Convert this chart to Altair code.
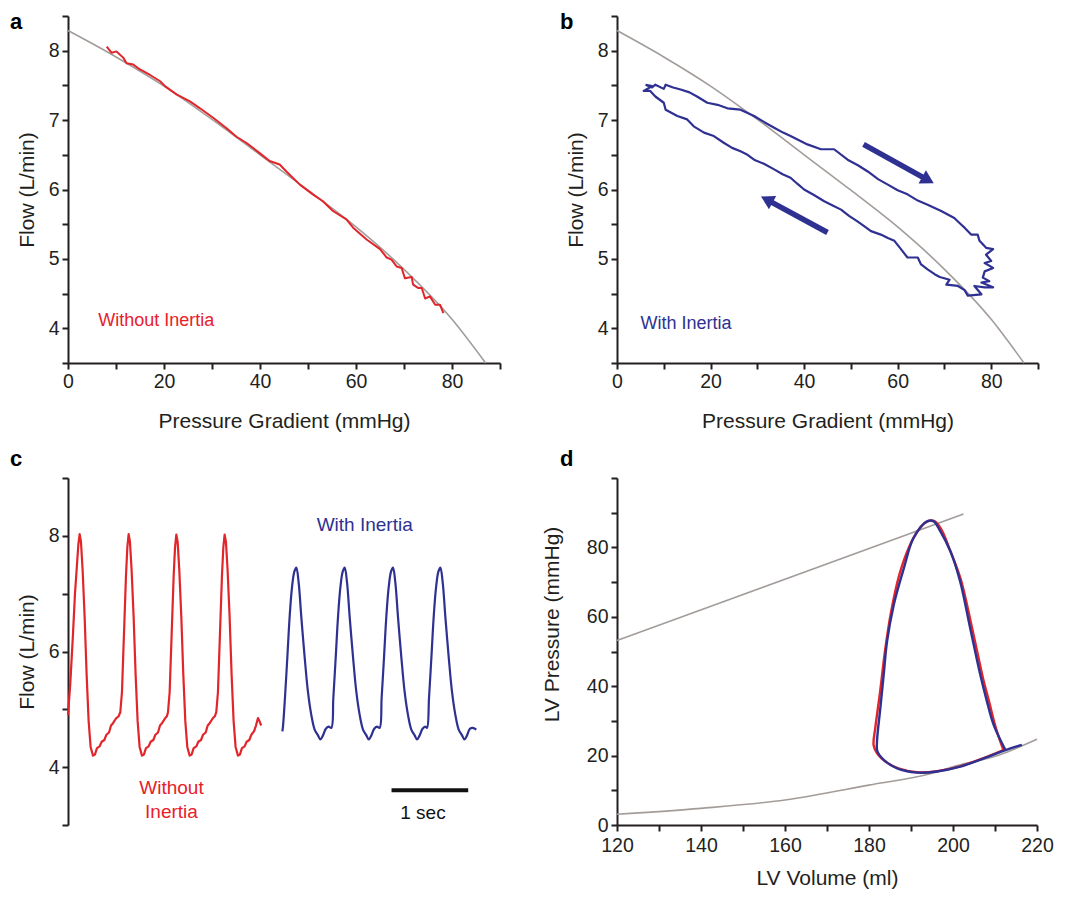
import math
import altair as alt
import pandas as pd

FONT = "Liberation Sans"
RED = "#e1262b"
RED_TXT = "#e8202a"
BLUE = "#2e3192"
GRAY = "#a39d9a"
AX = "#231f20"

# ---------------- panel a / b : pressure gradient vs flow ----------------
CURVE_P = [0, 10, 20, 30, 40, 50, 60, 70, 80, 87]
CURVE_Q = [8.29, 7.91, 7.49, 7.01, 6.50, 5.99, 5.46, 4.85, 4.13, 3.5]

RED_A_P = [8.06, 9.1, 10.1, 11.5, 12.2, 13.6, 15.0, 17.1, 19.2, 20.2, 22.6, 25.4, 27.5,
           30.3, 33.1, 35.1, 37.2, 40.0, 42.0, 44.1, 45.5, 48.3, 51.0, 53.1, 55.2, 58.0,
           59.4, 62.2, 65.0, 66.4, 67.4, 68.5, 69.5, 70.2, 71.6, 71.9, 73.0, 73.7, 74.4,
           75.4, 76.5, 77.5, 78.2]
RED_A_Q = [8.06, 7.97, 7.99, 7.90, 7.82, 7.80, 7.73, 7.65, 7.56, 7.49, 7.37, 7.27, 7.17,
           7.03, 6.88, 6.76, 6.67, 6.52, 6.41, 6.36, 6.26, 6.07, 5.93, 5.83, 5.69, 5.57,
           5.45, 5.28, 5.14, 5.02, 4.99, 4.89, 4.87, 4.72, 4.74, 4.63, 4.58, 4.58, 4.43,
           4.46, 4.34, 4.34, 4.22]

BLUE_B_P = [6.1, 7.5, 8.2, 10.0, 10.4, 12.0, 13.6, 15.5, 17.1, 19.3, 21.5, 23.6, 26.4, 29.3,
            31.5, 33.6, 35.5, 37.1, 40.7, 43.6, 46.4, 49.3, 51.5, 53.6, 55.8, 57.9, 60.0,
            62.1, 64.3, 66.4, 69.3, 72.1, 73.5, 74.3, 75.7, 77.1, 77.5, 78.9, 80.4, 78.9,
            80.0, 78.6, 80.4, 78.6, 78.2, 79.6, 77.9, 80.4, 78.6, 76.4, 77.9, 75.0, 74.3,
            72.9, 70.4, 71.1, 69.0, 67.9, 66.4, 65.0, 64.3, 62.1, 60.7, 59.3, 57.9, 56.4,
            54.3, 52.9, 51.4, 49.6, 47.9, 46.1, 44.3, 42.1, 40.0, 38.6, 37.1, 35.4, 33.6,
            31.4, 29.3, 27.9, 26.4, 24.6, 22.9, 20.7, 18.6, 16.4, 15.0, 12.9, 10.4, 10.0,
            8.2, 7.1, 5.7, 7.5, 6.1]
BLUE_B_Q = [7.51, 7.47, 7.51, 7.45, 7.51, 7.47, 7.44, 7.40, 7.34, 7.25, 7.22, 7.17, 7.15, 7.06,
            6.97, 6.89, 6.82, 6.77, 6.65, 6.58, 6.58, 6.43, 6.35, 6.26, 6.15, 6.07, 5.99,
            5.93, 5.84, 5.78, 5.69, 5.59, 5.50, 5.45, 5.35, 5.35, 5.26, 5.16, 5.14, 5.06,
            4.97, 4.94, 4.87, 4.82, 4.73, 4.68, 4.66, 4.59, 4.59, 4.61, 4.49, 4.47, 4.55,
            4.61, 4.63, 4.70, 4.74, 4.78, 4.85, 4.92, 5.02, 5.02, 5.14, 5.26, 5.30, 5.35,
            5.40, 5.47, 5.54, 5.62, 5.71, 5.77, 5.83, 5.92, 6.00, 6.08, 6.17, 6.22, 6.29,
            6.37, 6.43, 6.50, 6.55, 6.60, 6.67, 6.77, 6.82, 6.91, 7.01, 7.06, 7.15, 7.25,
            7.34, 7.42, 7.42, 7.49, 7.51]

# arrows (tail P, tail Q, tip P, tip Q)
ARROWS = [(52.7, 6.65, 67.7, 6.09), (45.0, 5.38, 30.8, 5.90)]

# ---------------- panel c : flow traces over time ----------------
RED_T = [0.000, 0.030, 0.065, 0.091, 0.117, 0.135, 0.152, 0.169, 0.191, 0.217, 0.243, 0.269,
         0.295, 0.326, 0.352, 0.378, 0.413, 0.439, 0.474, 0.500, 0.535, 0.561, 0.587, 0.630,
         0.660,
         0.682, 0.704, 0.730, 0.756, 0.774, 0.791, 0.808, 0.830, 0.856, 0.882, 0.908, 0.934,
         0.965, 0.991, 1.017, 1.052, 1.078, 1.113, 1.139, 1.174, 1.200, 1.226, 1.269, 1.290,
         1.304, 1.326, 1.352, 1.378, 1.396, 1.413, 1.430, 1.452, 1.478, 1.504, 1.530, 1.556,
         1.587, 1.613, 1.639, 1.674, 1.700, 1.735, 1.761, 1.796, 1.822, 1.848, 1.891, 1.915,
         1.934, 1.956, 1.982, 2.008, 2.026, 2.043, 2.060, 2.082, 2.108, 2.134, 2.160, 2.186,
         2.217, 2.243, 2.269, 2.304, 2.330, 2.365, 2.391, 2.426, 2.452, 2.478, 2.496, 2.520]
RED_F = [4.90, 5.45, 6.30, 7.00, 7.50, 7.85, 8.03, 7.90, 7.40, 6.60, 5.60, 4.80,
         4.35, 4.20, 4.22, 4.33, 4.36, 4.44, 4.47, 4.56, 4.60, 4.72, 4.76, 4.85,
         4.88,
         4.95, 5.30, 6.30, 7.30, 7.80, 8.03, 7.90, 7.40, 6.60, 5.60, 4.80, 4.35,
         4.20, 4.22, 4.33, 4.36, 4.44, 4.47, 4.56, 4.60, 4.72, 4.76, 4.85, 4.88,
         4.95, 5.30, 6.30, 7.30, 7.80, 8.02, 7.90, 7.40, 6.60, 5.60, 4.80, 4.35,
         4.20, 4.22, 4.33, 4.36, 4.44, 4.47, 4.56, 4.60, 4.72, 4.76, 4.85, 4.88,
         4.95, 5.30, 6.30, 7.30, 7.80, 8.02, 7.90, 7.40, 6.60, 5.60, 4.80, 4.35,
         4.20, 4.22, 4.33, 4.36, 4.44, 4.47, 4.56, 4.62, 4.72, 4.85, 4.80, 4.72]

BLUE_T = [2.796, 2.804, 2.830, 2.861, 2.891, 2.921, 2.952, 2.978, 3.008, 3.043, 3.087, 3.130,
          3.174, 3.217, 3.261, 3.291, 3.326, 3.361, 3.400,
          3.435, 3.461, 3.492, 3.522, 3.552, 3.583, 3.609, 3.639, 3.674, 3.718, 3.761, 3.805,
          3.848, 3.892, 3.922, 3.957, 3.992, 4.031,
          4.065, 4.091, 4.122, 4.152, 4.182, 4.213, 4.239, 4.269, 4.304, 4.348, 4.391, 4.435,
          4.478, 4.522, 4.552, 4.587, 4.622, 4.661,
          4.683, 4.709, 4.740, 4.770, 4.800, 4.831, 4.857, 4.887, 4.922, 4.966, 5.009, 5.053,
          5.096, 5.140, 5.170, 5.205, 5.240, 5.279, 5.326]
BLUE_F = [4.62, 4.70, 5.20, 5.90, 6.60, 7.10, 7.38, 7.45, 7.20, 6.60, 5.90, 5.30,
          4.90, 4.65, 4.55, 4.48, 4.55, 4.66, 4.70,
          4.68, 5.20, 5.90, 6.60, 7.10, 7.38, 7.45, 7.20, 6.60, 5.90, 5.30, 4.90,
          4.65, 4.55, 4.48, 4.55, 4.66, 4.70,
          4.68, 5.20, 5.90, 6.60, 7.10, 7.38, 7.45, 7.20, 6.60, 5.90, 5.30, 4.90,
          4.65, 4.55, 4.48, 4.55, 4.66, 4.70,
          4.68, 5.20, 5.90, 6.60, 7.10, 7.38, 7.45, 7.20, 6.60, 5.90, 5.30, 4.90,
          4.65, 4.55, 4.48, 4.55, 4.66, 4.68, 4.65]

SCALE_BAR = (4.22, 5.22, 3.60)  # t start, t end, flow level

# ---------------- panel d : PV loops ----------------
ESPVR_V = [120, 202.5]
ESPVR_P = [53.2, 89.6]
EDPVR_V = [120, 140, 160, 180, 195, 200, 211, 220]
EDPVR_P = [3.1, 4.8, 7.2, 11.5, 14.9, 16.8, 20.2, 24.7]

RED_D_V = [212.0, 210.2, 208.5, 207.2, 204.5, 201.8, 199.2, 197.3, 195.6, 193.6, 191.5,
           189.5, 187.2, 185.2, 183.8, 182.6, 181.5, 181.1, 182.0, 184.0, 187.0, 191.4,
           196.2, 201.7, 207.3, 212.0]
RED_D_P = [21.6, 28.0, 36.0, 42.0, 57.0, 71.0, 79.5, 85.0, 87.6, 87.3, 84.5,
           80.0, 72.0, 61.0, 50.0, 38.0, 28.0, 23.0, 20.5, 18.2, 16.3, 15.2,
           15.5, 16.9, 19.3, 21.6]
BLUE_D_V = [212.5, 209.7, 208.0, 206.5, 204.1, 201.7, 199.4, 197.0, 195.4, 193.8, 190.6,
            188.3, 185.9, 184.3, 183.5, 182.7, 181.9, 182.0, 183.5, 186.7, 191.4, 196.2,
            201.7, 207.3, 212.5, 216.4]
BLUE_D_P = [21.6, 28.8, 36.0, 43.3, 56.7, 70.2, 78.8, 84.6, 87.5, 87.5, 82.7,
            74.0, 63.5, 52.9, 43.3, 33.7, 24.0, 21.2, 18.8, 16.3, 15.1, 15.4,
            16.8, 19.2, 21.6, 23.1]

# ---------------- layout ----------------
W_A, W_B, W_C, W_D, H = 432, 421, 414, 420, 347


def frame(xs, ys):
    return pd.DataFrame({"x": xs, "y": ys, "i": list(range(len(xs)))})


def axis(values, expr, title, tpad, lpad=3, **kw):
    return alt.Axis(values=values, tickCount=40, labelExpr=expr, title=title, titlePadding=tpad,
                    domainColor=AX, domainWidth=2, tickColor=AX, tickWidth=2, tickSize=6,
                    labelFont=FONT, labelFontSize=19.5, labelColor=AX, labelPadding=lpad,
                    labelOverlap=False, labelFlush=False, labelBound=False,
                    titleFont=FONT, titleFontSize=21, titleFontWeight="normal",
                    titleColor=AX, grid=False, **kw)


def line(df, color, width, xs, ys, xa=None, ya=None, interp="linear"):
    xk = {"scale": xs}
    yk = {"scale": ys}
    if xa is not None:
        xk["axis"] = xa
    if ya is not None:
        yk["axis"] = ya
    return alt.Chart(df).mark_line(color=color, strokeWidth=width, strokeJoin="round",
                                   interpolate=interp).encode(
        x=alt.X("x:Q", **xk), y=alt.Y("y:Q", **yk), order="i:Q")


def label_text(txt, xv, yv, xs, ys, color, size, align="left", weight="normal"):
    return alt.Chart(pd.DataFrame({"x": [xv], "y": [yv], "t": [txt]})).mark_text(
        font=FONT, fontSize=size, color=color, align=align, baseline="middle",
        fontWeight=weight).encode(x=alt.X("x:Q", scale=xs), y=alt.Y("y:Q", scale=ys), text="t:N")


def letter(ch, dx, dy):
    return alt.Chart(pd.DataFrame({"t": [ch]})).mark_text(
        font=FONT, fontSize=22, fontWeight="bold", color="#000", align="left",
        baseline="alphabetic").encode(x=alt.value(dx), y=alt.value(dy), text="t:N")


int_expr = "abs(datum.value - round(datum.value)) < 0.01 ? '' + round(datum.value) : ''"
x20_expr = "datum.value % 20 === 0 && datum.value < 90 ? '' + datum.value : ''"
Y_AB = [3.5, 4, 4.5, 5, 5.5, 6, 6.5, 7, 7.5, 8, 8.5]
X_AB = list(range(0, 100, 10))

# panel a
xs_a = alt.Scale(domain=[0, 90], nice=False, zero=False)
ys_a = alt.Scale(domain=[3.5, 8.5], nice=False, zero=False)
pa = alt.layer(
    line(frame(CURVE_P, CURVE_Q), GRAY, 1.6, xs_a, ys_a,
         xa=axis(X_AB, x20_expr, "Pressure Gradient (mmHg)", 20),
         ya=axis(Y_AB, int_expr, "Flow (L/min)", 11), interp="monotone"),
    line(frame(RED_A_P, RED_A_Q), RED, 2, xs_a, ys_a),
    label_text("Without Inertia", 6.3, 4.1, xs_a, ys_a, RED_TXT, 18),
    letter("a", -58, 13),
).properties(width=W_A, height=H)

# panel b
xs_b = alt.Scale(domain=[0, 90], nice=False, zero=False)
ys_b = alt.Scale(domain=[3.5, 8.5], nice=False, zero=False)
pxP = W_B / 90.0
pxQ = H / 5.0
arrow_layers = []
for (p0, q0, p1, q1) in ARROWS:
    dx = (p1 - p0) * pxP
    dy = -(q1 - q0) * pxQ  # screen y grows downward
    ln = math.hypot(dx, dy)
    ux, uy = dx / ln, dy / ln
    ang = math.degrees(math.atan2(ux, -uy)) % 360
    back = 6.5
    cp = p1 - ux * back / pxP
    cq = q1 + uy * back / pxQ
    arrow_layers.append(
        alt.Chart(pd.DataFrame({"x": [p0], "y": [q0], "x2": [cp], "y2": [cq]})).mark_rule(
            color=BLUE, strokeWidth=5.5, strokeCap="butt").encode(
            x=alt.X("x:Q", scale=xs_b), y=alt.Y("y:Q", scale=ys_b), x2="x2:Q", y2="y2:Q"))
    arrow_layers.append(
        alt.Chart(pd.DataFrame({"x": [cp], "y": [cq]})).mark_point(
            shape="triangle-up", filled=True, size=230, color=BLUE, opacity=1,
            angle=ang).encode(x=alt.X("x:Q", scale=xs_b), y=alt.Y("y:Q", scale=ys_b)))

pb = alt.layer(
    line(frame(CURVE_P, CURVE_Q), GRAY, 1.6, xs_b, ys_b,
         xa=axis(X_AB, x20_expr, "Pressure Gradient (mmHg)", 20),
         ya=axis(Y_AB, int_expr, "Flow (L/min)", 11), interp="monotone"),
    line(frame(BLUE_B_P, BLUE_B_Q), BLUE, 2.2, xs_b, ys_b),
    *arrow_layers,
    label_text("With Inertia", 5.0, 4.06, xs_b, ys_b, BLUE, 18),
    letter("b", -57, 13),
).properties(width=W_B, height=H)

# panel c
xs_c = alt.Scale(domain=[0, 5.4], nice=False, zero=False)
ys_c = alt.Scale(domain=[3, 9], nice=False, zero=False)
c_expr = "datum.value % 2 === 0 ? '' + datum.value : ''"
pc = alt.layer(
    line(frame(RED_T, RED_F), RED, 2.2, xs_c, ys_c,
         ya=axis(list(range(3, 10)), c_expr, "Flow (L/min)", 11)).encode(
        x=alt.X("x:Q", scale=xs_c, axis=None)),
    line(frame(BLUE_T, BLUE_F), BLUE, 2.2, xs_c, ys_c, interp="catmull-rom"),
    alt.Chart(pd.DataFrame({"x": [SCALE_BAR[0]], "x2": [SCALE_BAR[1]], "y": [SCALE_BAR[2]]})).mark_rule(
        color="#111", strokeWidth=4, strokeCap="butt").encode(
        x=alt.X("x:Q", scale=xs_c), x2="x2:Q", y=alt.Y("y:Q", scale=ys_c)),
    label_text("1 sec", 4.63, 3.2, xs_c, ys_c, "#111", 19, align="center"),
    label_text("With Inertia", 3.87, 8.19, xs_c, ys_c, BLUE, 19, align="center"),
    label_text("Without", 1.35, 3.64, xs_c, ys_c, RED_TXT, 19, align="center"),
    label_text("Inertia", 1.35, 3.23, xs_c, ys_c, RED_TXT, 19, align="center"),
    letter("c", -58, -12),
).properties(width=W_C, height=H)

# panel d
xs_d = alt.Scale(domain=[120, 220], nice=False, zero=False)
ys_d = alt.Scale(domain=[0, 100], nice=False, zero=False)
d_expr = "datum.value % 20 === 0 && datum.value < 100 ? '' + datum.value : ''"
dx_expr = "datum.value % 20 === 0 ? '' + datum.value : ''"
pd_ = alt.layer(
    line(frame(ESPVR_V, ESPVR_P), GRAY, 1.6, xs_d, ys_d,
         xa=axis(list(range(120, 230, 10)), dx_expr, "LV Volume (ml)", 13, lpad=5),
         ya=axis(list(range(0, 110, 10)), d_expr, "LV Pressure (mmHg)", 24, titleY=146)),
    line(frame(EDPVR_V, EDPVR_P), GRAY, 1.6, xs_d, ys_d, interp="monotone"),
    line(frame(RED_D_V, RED_D_P), RED, 2.4, xs_d, ys_d, interp="catmull-rom"),
    line(frame(BLUE_D_V, BLUE_D_P), BLUE, 2.4, xs_d, ys_d, interp="catmull-rom"),
    letter("d", -57, -12),
).properties(width=W_D, height=H)

chart = alt.concat(
    pa, pb, pc, pd_, columns=2,
    spacing=alt.RowColnumber(row=115, column=117),
    bounds="flush",
).properties(
    padding={"left": 10, "top": 6, "right": 5, "bottom": 5},
    background="white",
).configure_view(stroke=None)

chart.save("out.html", embed_options={"renderer": "svg", "actions": False})
